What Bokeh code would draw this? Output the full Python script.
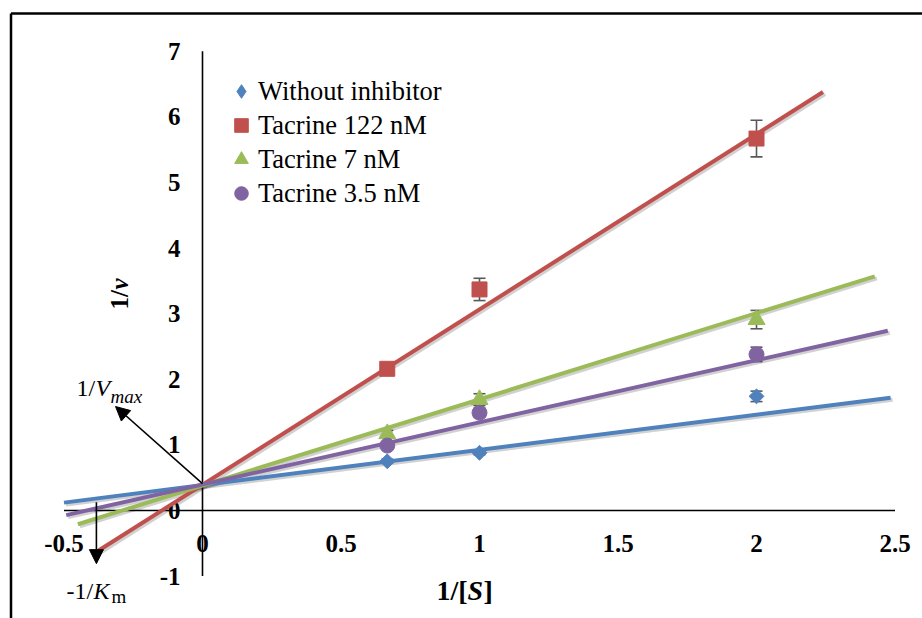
import math
from bokeh.plotting import figure
from bokeh.models import (Range1d, Whisker, TeeHead, Arrow, NormalHead, Legend,
                          LegendItem, ColumnDataSource)
from bokeh.core.properties import value
from bokeh.embed import file_html
from bokeh.resources import INLINE

# ---------------- data ----------------
inv_s = [0.667, 1.0, 2.0]
without_inh = [0.75, 0.88, 1.74]
without_err = [0.03, 0.03, 0.08]
tac_122 = [2.16, 3.37, 5.67]
tac_122_err = [0.05, 0.17, 0.28]
tac_7 = [1.17, 1.69, 2.91]
tac_7_err = [0.05, 0.09, 0.14]
tac_35 = [0.99, 1.49, 2.38]
tac_35_err = [0.04, 0.07, 0.11]

# trendline end points (x start, x end), (y start, y end)
fit_without_x = [-0.5, 2.484]
fit_without_y = [0.12, 1.72]
fit_122_x = [-0.375, 2.24]
fit_122_y = [-0.61, 6.38]
fit_7_x = [-0.45, 2.427]
fit_7_y = [-0.21, 3.57]
fit_35_x = [-0.492, 2.474]
fit_35_y = [-0.07, 2.74]

x_ticks = [-0.5, 0, 0.5, 1, 1.5, 2, 2.5]
x_tick_labels = ["-0.5", "0", "0.5", "1", "1.5", "2", "2.5"]
y_ticks = [-1, 0, 1, 2, 3, 4, 5, 6, 7]
y_tick_labels = ["-1", "0", "1", "2", "3", "4", "5", "6", "7"]

series_names = ["Without inhibitor", "Tacrine 122 nM", "Tacrine 7 nM", "Tacrine 3.5 nM"]

# ---------------- style ----------------
BLUE, RED, GREEN, PURPLE = "#4F81BD", "#C0504D", "#9BBB59", "#8064A2"
FONT = value("Liberation Serif")
W, H = 922, 618
PX_X = 277.0   # pixels per x unit
PX_Y = 65.6    # pixels per y unit
OX, OY = 202.0, 510.0  # canvas position of data origin

def cx(px):  # canvas px -> data x
    return (px - OX) / PX_X

def cy(py):  # canvas py -> data y
    return (OY - py) / PX_Y

p = figure(width=W, height=H, output_backend="svg", toolbar_location=None,
           x_axis_location=None, y_axis_location=None,
           x_range=Range1d(cx(0), cx(W)), y_range=Range1d(cy(H), cy(0)),
           min_border=0, outline_line_color=None)
p.grid.visible = False
p.background_fill_color = "white"

# chart border (top and left edges visible in the reference)
p.segment(x0=[cx(10.5), cx(10.5)], y0=[cy(13), cy(13)], x1=[cx(W), cx(10.5)], y1=[cy(13), cy(H)],
          line_color="black", line_width=2.5)

# tick labels
p.text(x=x_ticks, y=[0] * len(x_ticks), text=x_tick_labels, y_offset=33,
       text_align="center", text_baseline="middle", text_font=FONT,
       text_font_style="bold", text_font_size="25px", text_color="black")
p.text(x=[0] * len(y_ticks), y=y_ticks, text=y_tick_labels, x_offset=-22,
       text_align="right", text_baseline="middle", text_font=FONT,
       text_font_style="bold", text_font_size="25px", text_color="black")

# axes crossing at the origin
p.segment(x0=[x_ticks[0], 0], y0=[0, y_ticks[0]], x1=[x_ticks[-1], 0], y1=[0, y_ticks[-1]],
          line_color="black", line_width=1.6)

# axis titles
p.text(x=[cx(119)], y=[cy(309)], text=["1/"], angle=math.pi / 2, text_align="left",
       text_baseline="middle", text_font=FONT, text_font_style="bold",
       text_font_size="25px", text_color="black")
p.text(x=[cx(119)], y=[cy(289)], text=["v"], angle=math.pi / 2, text_align="left",
       text_baseline="middle", text_font=FONT, text_font_style="bold italic",
       text_font_size="25px", text_color="black")
p.text(x=[cx(436)], y=[cy(590)], text=["1/["], text_align="left", text_baseline="middle",
       text_font=FONT, text_font_style="bold", text_font_size="28px", text_color="black")
p.text(x=[cx(467)], y=[cy(590)], text=["S"], text_align="left", text_baseline="middle",
       text_font=FONT, text_font_style="bold italic", text_font_size="28px", text_color="black")
p.text(x=[cx(483)], y=[cy(590)], text=["]"], text_align="left", text_baseline="middle",
       text_font=FONT, text_font_style="bold", text_font_size="28px", text_color="black")

# trendlines with a soft shadow
fits = [(fit_without_x, fit_without_y, BLUE), (fit_122_x, fit_122_y, RED),
        (fit_7_x, fit_7_y, GREEN), (fit_35_x, fit_35_y, PURPLE)]
dx, dy = 2.0 / PX_X, -2.0 / PX_Y
for fx, fy, col in fits:
    p.line([v + dx for v in fx], [v + dy for v in fy], line_color="black",
           line_alpha=0.18, line_width=4)
for fx, fy, col in fits:
    p.line(fx, fy, line_color=col, line_width=4)

# error bars
series = [(without_inh, without_err), (tac_122, tac_122_err),
          (tac_7, tac_7_err), (tac_35, tac_35_err)]
for vals, errs in series:
    src = ColumnDataSource(dict(x=inv_s, lo=[v - e for v, e in zip(vals, errs)],
                                hi=[v + e for v, e in zip(vals, errs)]))
    wk = Whisker(source=src, base="x", lower="lo", upper="hi",
                 line_color="#595959", line_width=1.6,
                 upper_head=TeeHead(size=12, line_color="#595959", line_width=1.6),
                 lower_head=TeeHead(size=12, line_color="#595959", line_width=1.6))
    p.add_layout(wk)

# markers
r_blue = p.scatter(inv_s, without_inh, marker="square", angle=math.pi / 4, size=10.5,
                   fill_color=BLUE, line_color=BLUE)
r_red = p.scatter(inv_s, tac_122, marker="square", size=15,
                  fill_color=RED, line_color=RED)
r_green = p.scatter(inv_s, tac_7, marker="triangle", size=17,
                    fill_color=GREEN, line_color=GREEN)
r_purple = p.scatter(inv_s, tac_35, marker="circle", size=15,
                     fill_color=PURPLE, line_color=PURPLE)
# legend glyph for the diamond series (legend glyphs ignore marker angle)
r_blue_key = p.scatter(x=[float("nan")], y=[float("nan")], marker="diamond", size=15,
                       fill_color=BLUE, line_color=BLUE)

legend = Legend(items=[LegendItem(label=series_names[0], renderers=[r_blue_key]),
                       LegendItem(label=series_names[1], renderers=[r_red]),
                       LegendItem(label=series_names[2], renderers=[r_green]),
                       LegendItem(label=series_names[3], renderers=[r_purple])],
                location=(224, 408), glyph_width=34, glyph_height=34, spacing=0,
                label_standoff=-4, padding=0, margin=0,
                border_line_color=None, background_fill_alpha=0,
                label_text_font="Liberation Serif", label_text_font_size="26.5px",
                label_text_color="black")
p.add_layout(legend)

# annotations: 1/Vmax and -1/Km arrows
p.add_layout(Arrow(end=NormalHead(size=14, fill_color="black", line_color="black"),
                   x_start=0, y_start=0.41, x_end=-0.314, y_end=1.585,
                   line_color="black", line_width=1.6))
p.add_layout(Arrow(end=NormalHead(size=14, fill_color="black", line_color="black"),
                   x_start=-0.383, y_start=0.127, x_end=-0.383, y_end=-0.81,
                   line_color="black", line_width=1.6))

p.text(x=[cx(76)], y=[cy(387)], text=["1/"], text_align="left", text_baseline="middle",
       text_font=FONT, text_font_size="24px", text_color="black")
p.text(x=[cx(95)], y=[cy(387)], text=["V"], text_align="left", text_baseline="middle",
       text_font=FONT, text_font_style="italic", text_font_size="24px", text_color="black")
p.text(x=[cx(110)], y=[cy(396)], text=["max"], text_align="left", text_baseline="middle",
       text_font=FONT, text_font_style="italic", text_font_size="19px", text_color="black")

p.text(x=[cx(66)], y=[cy(590)], text=["-1/"], text_align="left", text_baseline="middle",
       text_font=FONT, text_font_size="24px", text_color="black")
p.text(x=[cx(93)], y=[cy(590)], text=["K"], text_align="left", text_baseline="middle",
       text_font=FONT, text_font_style="italic", text_font_size="24px", text_color="black")
p.text(x=[cx(111)], y=[cy(596)], text=["m"], text_align="left", text_baseline="middle",
       text_font=FONT, text_font_size="19px", text_color="black")

open("out.html", "w").write(file_html(p, INLINE))
